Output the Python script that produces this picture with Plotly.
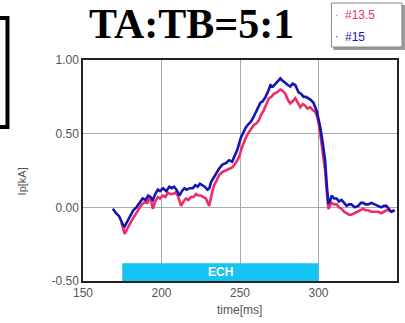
import plotly.graph_objects as go

# ---------------- data ----------------
blue_t = [169, 171, 173, 175.5, 176.5, 178.5, 180, 182, 184, 186, 188, 190, 191.5, 193, 194.5, 196,
          197.7, 199, 201, 203, 205, 206.5, 208, 209.5, 211.4, 213, 214.6, 216, 218, 220, 221.5, 223,
          224.5, 226, 227.5, 229.3, 230.5, 231.5, 233, 234.6, 236.5, 238.8, 241, 243, 245, 246.2,
          248.3, 250.4, 252, 253.6, 255, 256.8, 258.5, 260, 261.5, 263, 264.5, 266.3, 268, 269.4,
          271, 272.6, 274, 275.7, 277, 278.9, 280.5, 282, 283.5, 285.2, 286.5, 287.3, 289, 290.5,
          292, 293.7, 295, 296.8, 298, 299, 300, 301, 302.5, 304.2, 305.3, 306.3, 307.3, 308.4, 310,
          311.6, 313, 314.7, 316.3, 317.9, 319.5, 321, 323, 325.3, 327, 328.5, 330, 331.6, 333.7,
          335.8, 338, 340, 341.6, 343.2, 344.8, 346.4, 348.5]
blue_v = [-0.01, -0.04, -0.06, -0.12, -0.13, -0.09, -0.06, -0.02, 0.00, 0.03, 0.06, 0.05, 0.08, 0.07,
          0.05, 0.09, 0.12, 0.11, 0.13, 0.11, 0.14, 0.13, 0.14, 0.12, 0.08, 0.11, 0.13, 0.12, 0.13,
          0.13, 0.15, 0.14, 0.16, 0.15, 0.14, 0.12, 0.13, 0.17, 0.20, 0.23, 0.26, 0.29, 0.30, 0.32,
          0.31, 0.34, 0.39, 0.47, 0.51, 0.54, 0.56, 0.58, 0.61, 0.64, 0.67, 0.71, 0.72, 0.75, 0.79,
          0.83, 0.82, 0.84, 0.85, 0.875, 0.86, 0.84, 0.83, 0.82, 0.84, 0.83, 0.80, 0.78, 0.77, 0.75,
          0.75, 0.74, 0.73, 0.71, 0.68, 0.65, 0.60, 0.55, 0.45, 0.32, 0.15, 0.025, 0.04, 0.08, 0.06,
          0.06, 0.04, 0.05, 0.03, 0.01, 0.02, 0.02, 0.00, 0.01, 0.03, 0.03, 0.02, 0.02, 0.03, 0.02,
          0.01, 0.00, 0.01, 0.01, -0.01, -0.03, -0.02]

pink_t = [174.5, 175.5, 176.5, 178, 179.8, 181.5, 183, 184.5, 186, 187.5, 189.3, 191, 192.4, 193.5,
          194.5, 196, 197.7, 199, 200.9, 202.5, 204, 205.5, 207.2, 208.8, 210.4, 211.5, 212.5, 214,
          215.6, 217, 218.8, 220.5, 222, 223.5, 225.1, 226.7, 228.3, 229.5, 230.4, 232, 233.5, 235,
          236.7, 238.8, 240.9, 243, 245.1, 247.2, 249.4, 251, 252.5, 254, 255.7, 257.3, 258.9, 260.5,
          262, 263.5, 265.2, 266.8, 268.4, 270, 271.5, 273.5, 275.7, 277.3, 278.9, 280.5, 282, 283.5,
          285.2, 286.8, 288.4, 290, 291.5, 293, 294.7, 296.3, 297.8, 299, 300, 301, 302, 303.1, 304.2,
          305.3, 306.3, 307.3, 308.4, 310, 311.6, 313, 314.7, 316.3, 317.9, 319.5, 321, 323, 325.3,
          327, 328.5, 330, 331.6, 333.7, 335.8, 338, 340, 341.6, 343.2, 344.8, 346.4, 348.5]
pink_v = [-0.10, -0.14, -0.18, -0.15, -0.11, -0.08, -0.055, -0.03, -0.01, 0.02, 0.035, 0.03, 0.06,
          0.04, -0.01, 0.04, 0.07, 0.06, 0.08, 0.07, 0.10, 0.09, 0.09, 0.10, 0.08, 0.04, 0.01, 0.04,
          0.06, 0.05, 0.07, 0.07, 0.09, 0.08, 0.08, 0.07, 0.06, 0.03, 0.01, 0.09, 0.15, 0.18, 0.22,
          0.24, 0.25, 0.26, 0.27, 0.30, 0.34, 0.40, 0.44, 0.48, 0.51, 0.54, 0.56, 0.57, 0.59, 0.63,
          0.66, 0.70, 0.74, 0.75, 0.77, 0.78, 0.80, 0.79, 0.77, 0.73, 0.705, 0.72, 0.74, 0.71, 0.68,
          0.70, 0.69, 0.67, 0.68, 0.66, 0.65, 0.62, 0.58, 0.51, 0.43, 0.34, 0.25, 0.10, -0.01, 0.01,
          0.03, 0.02, 0.02, 0.00, -0.01, -0.03, -0.04, -0.05, -0.05, -0.04, -0.03, -0.02, -0.01,
          -0.02, -0.02, -0.03, -0.03, -0.03, -0.04, -0.03, -0.02, -0.02, -0.03, -0.02]

series_names = ["#13.5", "#15"]
x_ticks = [150, 200, 250, 300, 350]
y_ticks = [-0.5, 0.0, 0.5, 1.0]
ech_window = [175, 300]

PINK = "#EE2C6C"
BLUE = "#1414B4"

# ---------------- figure ----------------
L, R, T, B = 83, 6, 60, 42
W, H = 405, 323
pw, ph = W - L - R, H - T - B


def px(x):
    return (x - L) / pw


def py(y):
    return (H - B - y) / ph


fig = go.Figure()
fig.add_trace(go.Scatter(x=pink_t, y=pink_v, mode="lines", name=series_names[0],
                         line=dict(color=PINK, width=2.6), showlegend=False))
fig.add_trace(go.Scatter(x=blue_t, y=blue_v, mode="lines", name=series_names[1],
                         line=dict(color=BLUE, width=2.6), showlegend=False))

shapes = []
# ECH bar
shapes.append(dict(type="rect", xref="x", yref="y", x0=ech_window[0], x1=ech_window[1],
                   y0=-0.5, y1=-0.38, fillcolor="#14C4F2", line=dict(width=0), layer="above"))
# legend box shadow + box
shapes.append(dict(type="rect", xref="paper", yref="paper", x0=px(335), x1=px(407),
                   y0=py(50), y1=py(5), fillcolor="#999999", line=dict(width=0)))
shapes.append(dict(type="rect", xref="paper", yref="paper", x0=px(333), x1=px(404),
                   y0=py(47), y1=py(3), fillcolor="white", line=dict(color="#888888", width=1)))
# black frame fragment at left
shapes.append(dict(type="rect", xref="paper", yref="paper", x0=px(-20), x1=px(7),
                   y0=py(127), y1=py(18), line=dict(color="black", width=4)))


def ann(text, x, y, size, color, family="Liberation Sans", xanchor="center", angle=0, xref="paper", yref="paper"):
    return dict(text=text, x=x, y=y, xref=xref, yref=yref, showarrow=False,
                xanchor=xanchor, yanchor="middle", textangle=angle,
                font=dict(family=family, size=size, color=color))


annotations = [
    ann("<b>TA:TB=5:1</b>", px(192), py(24), 42, "black", family="Liberation Serif"),
    ann("<b>ECH</b>", sum(ech_window) / 2, -0.44, 12, "white", xref="x", yref="y"),
    ann("·", px(338), py(15), 10, PINK),
    ann("·", px(338), py(37), 10, BLUE),
    ann(series_names[0], px(345), py(15), 12, PINK, xanchor="left"),
    ann(series_names[1], px(345), py(37), 12, BLUE, xanchor="left"),
    ann("Ip[kA]", px(22), py(181), 11, "#555555", angle=-90),
    ann("time[ms]", px(240), py(310), 12, "#555555"),
]

fig.update_layout(
    width=W, height=H, margin=dict(l=L, r=R, t=T, b=B),
    paper_bgcolor="white", plot_bgcolor="white",
    shapes=shapes, annotations=annotations, showlegend=False,
    font=dict(family="Liberation Sans", size=12, color="#555555"),
)
fig.update_xaxes(range=[150, 350], tickvals=x_ticks, ticktext=[str(v) for v in x_ticks],
                 showgrid=True, gridcolor="#AAAAAA", gridwidth=1,
                 showline=True, linecolor="#222222", linewidth=1.5, mirror=True,
                 zeroline=False, ticks="", ticklen=2, tickfont=dict(size=12, color="#555555"))
fig.update_yaxes(range=[-0.5, 1.0], tickvals=y_ticks, ticktext=["-0.50", "0.00", "0.50", "1.00"],
                 showgrid=True, gridcolor="#AAAAAA", gridwidth=1,
                 showline=True, linecolor="#222222", linewidth=1.5, mirror=True,
                 zeroline=False, ticks="", tickfont=dict(size=12, color="#555555"))

fig.write_html("out.html")
